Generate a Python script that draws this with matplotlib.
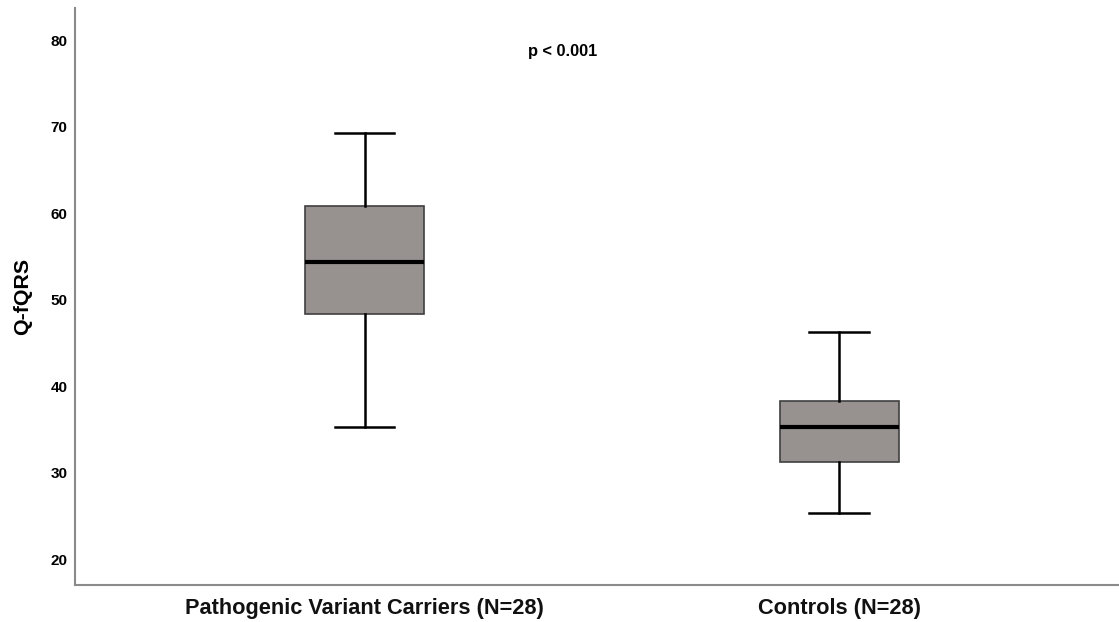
import matplotlib
matplotlib.use("Agg")
import matplotlib.pyplot as plt

categories = ["Pathogenic Variant Carriers (N=28)", "Controls (N=28)"]
whisker_low = [35.3, 25.4]
q1 = [48.3, 31.3]
median = [54.3, 35.3]
q3 = [60.8, 38.3]
whisker_high = [69.3, 46.3]
yticks = [20, 30, 40, 50, 60, 70, 80]
annotation = "p < 0.001"

plt.rcParams['font.family'] = ['Liberation Sans', 'DejaVu Sans']

fig = plt.figure(figsize=(11.19, 6.22), dpi=100)
ax = fig.add_axes([0.0666, 0.0595, 0.9334, 0.9275])

stats = []
for i, name in enumerate(categories):
    stats.append(dict(label=name, whislo=whisker_low[i], q1=q1[i], med=median[i],
                      q3=q3[i], whishi=whisker_high[i], fliers=[]))

positions = [1, 2]
bp = ax.bxp(stats, positions=positions, widths=0.251, patch_artist=True,
            showfliers=False,
            boxprops=dict(facecolor="#979190", edgecolor="#404040", linewidth=1.2),
            medianprops=dict(color="black", linewidth=3),
            whiskerprops=dict(color="black", linewidth=1.8),
            capprops=dict(color="black", linewidth=1.8),
            capwidths=0.125)

ax.set_xlim(0.388, 2.59)
ax.set_ylim(17.03, 83.7)
ax.set_yticks(yticks)
ax.set_yticklabels([str(t) for t in yticks], fontsize=11, fontweight='bold')
ax.tick_params(axis='y', length=0, pad=5)
ax.tick_params(axis='x', length=0, pad=9.5)
ax.set_xticks(positions)
ax.set_xticklabels(categories, fontsize=15.7, fontweight='bold', color='#111111')

for side in ['top', 'right']:
    ax.spines[side].set_visible(False)
for side in ['left', 'bottom']:
    ax.spines[side].set_color('#8a8a8a')
    ax.spines[side].set_linewidth(1.5)

ax.set_ylabel("Q-fQRS", fontsize=15.4, fontweight='bold')
ax.yaxis.set_label_coords(-0.0405, 0.501)
ax.text(1.418, 78.7, annotation, fontsize=11.8, fontweight='bold', ha='center', va='center')

fig.savefig("out.png", dpi=100)
